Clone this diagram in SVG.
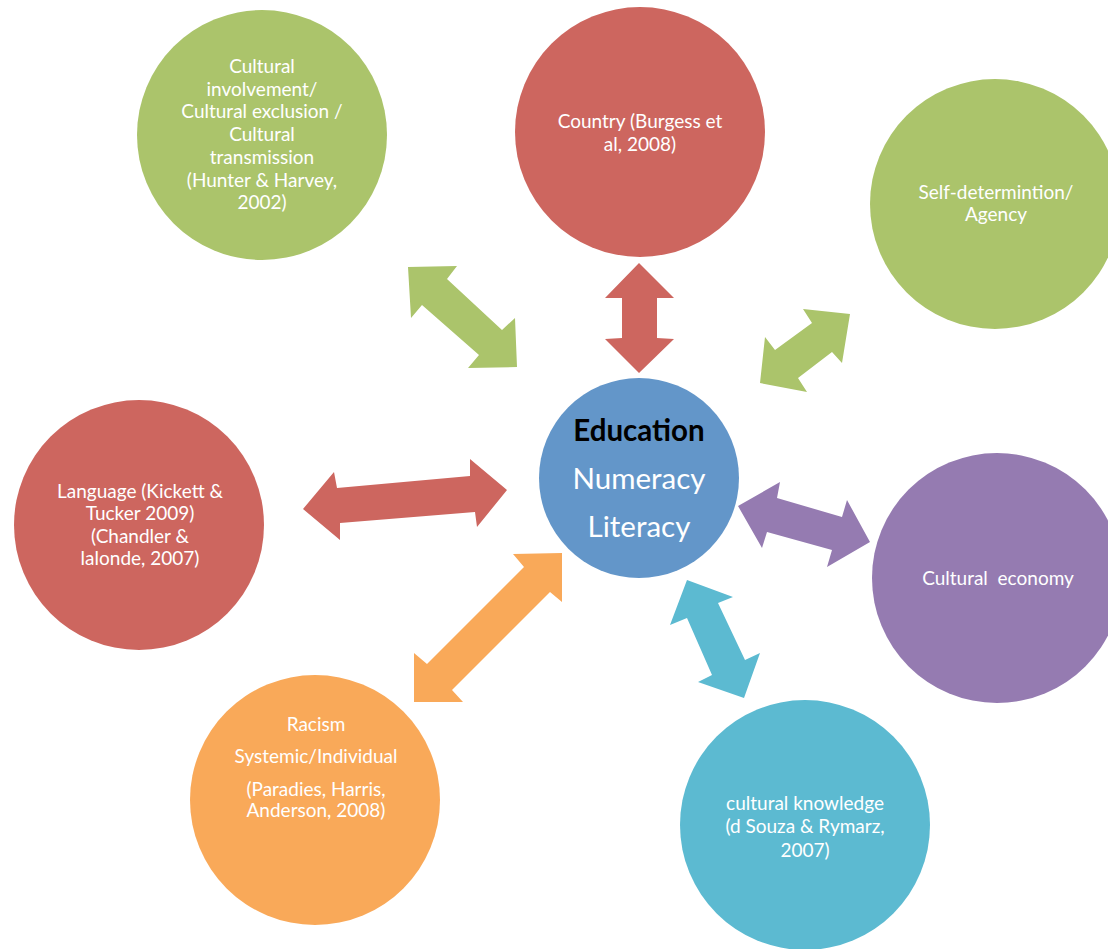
<svg xmlns="http://www.w3.org/2000/svg" width="1108" height="949" viewBox="0 0 1108 949">
<style>
.t{font-family:Lato,"Open Sans","Liberation Sans",sans-serif;font-size:19px;fill:#fff;text-anchor:middle}
.c{font-family:Lato,"Open Sans","Liberation Sans",sans-serif;font-size:29.5px;fill:#fff;text-anchor:middle}
.red{fill:#CD665F}.green{fill:#ABC46B}.purple{fill:#957BB1}.cyan{fill:#5CBAD1}.orange{fill:#F9A959}.blue{fill:#6396C9}
</style>
<rect width="1108" height="949" fill="#fff"/>
<g id="connectors">
<polygon class="green" points="408,267 457,266 447,279 502,330 515,318 517,367 468,368 479,355 422,305 411,318"/>
<polygon class="red" points="639,263 674,298 657,298 657,338 674,339 639,373 605,339 622,338 622,298 605,298"/>
<polygon class="green" points="850,314 803,309 812,323 775,350 765,337 760,383 807,392 798,378 832,352 842,363"/>
<polygon class="red" points="303,509 334,472 337,488 470,476 470,459 507,490 477,527 475,512 340,523 340,540"/>
<polygon class="purple" points="738,506 780,482 777,498 842,517 847,500 870,542 827,567 832,550 767,532 762,548"/>
<polygon class="orange" points="562,553 513,554 524,567 427,664 414,653 414,702 463,702 452,690 550,592 562,602"/>
<polygon class="cyan" points="687,580 733,597 718,603 745,660 760,653 744,698 698,682 712,675 687,618 670,625"/>
</g>
<g id="n-cultural">
<circle class="green" cx="262" cy="135" r="125"/>
<text class="t" x="262" y="73">Cultural</text>
<text class="t" x="262" y="96">involvement/</text>
<text class="t" x="262" y="118">Cultural exclusion /</text>
<text class="t" x="262" y="141">Cultural</text>
<text class="t" x="262" y="164">transmission</text>
<text class="t" x="262" y="187">(Hunter &amp; Harvey,</text>
<text class="t" x="262" y="209">2002)</text>
</g>
<g id="n-country">
<circle class="red" cx="640" cy="132" r="125"/>
<text class="t" x="640" y="128">Country (Burgess et</text>
<text class="t" x="640" y="151">al, 2008)</text>
</g>
<g id="n-self">
<circle class="green" cx="995" cy="204" r="125"/>
<text class="t" x="996" y="199">Self-determintion/</text>
<text class="t" x="996" y="221">Agency</text>
</g>
<g id="n-language">
<circle class="red" cx="139" cy="525" r="125"/>
<text class="t" x="140" y="498">Language (Kickett &amp;</text>
<text class="t" x="140" y="520">Tucker 2009)</text>
<text class="t" x="140" y="543">(Chandler &amp;</text>
<text class="t" x="140" y="565">lalonde, 2007)</text>
</g>
<g id="n-economy">
<circle class="purple" cx="997" cy="578" r="125"/>
<text class="t" x="998" y="585" style="white-space:pre">Cultural  economy</text>
</g>
<g id="n-racism">
<circle class="orange" cx="315" cy="800" r="125"/>
<text class="t" x="316" y="731">Racism</text>
<text class="t" x="316" y="763">Systemic/Individual</text>
<text class="t" x="316" y="796">(Paradies, Harris,</text>
<text class="t" x="316" y="817">Anderson, 2008)</text>
</g>
<g id="n-knowledge">
<circle class="cyan" cx="805" cy="825" r="125"/>
<text class="t" x="805" y="810">cultural knowledge</text>
<text class="t" x="805" y="833">(d Souza &amp; Rymarz,</text>
<text class="t" x="805" y="857">2007)</text>
</g>
<g id="n-education">
<circle class="blue" cx="639" cy="478" r="100"/>
<text class="c" x="639" y="441" style="fill:#000;font-weight:bold">Education</text>
<text class="c" x="639" y="489">Numeracy</text>
<text class="c" x="639" y="537">Literacy</text>
</g>
</svg>
